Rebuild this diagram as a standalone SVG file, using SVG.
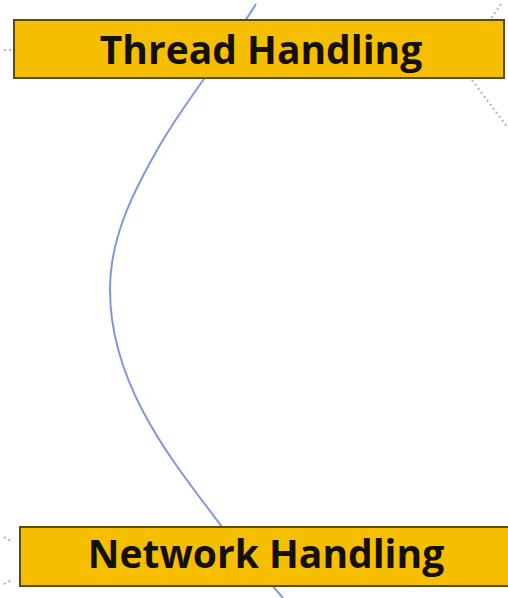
<svg xmlns="http://www.w3.org/2000/svg" width="508" height="598" viewBox="0 0 508 598">
<style>
.box{fill:#F5BF00;stroke:#5C4B12;stroke-width:2}
.lbl{font-family:"Open Sans",sans-serif;font-weight:bold;font-size:39px;fill:#141008;text-anchor:middle}
.curve{fill:none;stroke:#8096E0;stroke-width:2}
.dot{fill:none;stroke:#A9B3CC;stroke-width:2;stroke-dasharray:2 3}
</style>
<rect width="508" height="598" fill="#ffffff"/>
<g id="connectors">
<path class="curve" d="M256,4 C226,52 187,98 160,145 C130,197 110,240 110,290 C110,390 180,470 222,527 L283,598"/>
<path class="dot" d="M501,4 L490,20"/>
<path class="dot" d="M472,80 L508,128"/>
<path class="dot" d="M4,50 L13,50"/>
<path class="dot" d="M4,537 L12,542"/>
<path class="dot" d="M4,584 L12,580"/>
</g>
<g id="thread-handling">
<rect class="box" x="14" y="20" width="490" height="58"/>
<text class="lbl" x="261" y="64">Thread Handling</text>
</g>
<g id="network-handling">
<rect class="box" x="20" y="527" width="492" height="59"/>
<text class="lbl" x="266" y="568">Network Handling</text>
</g>
</svg>
